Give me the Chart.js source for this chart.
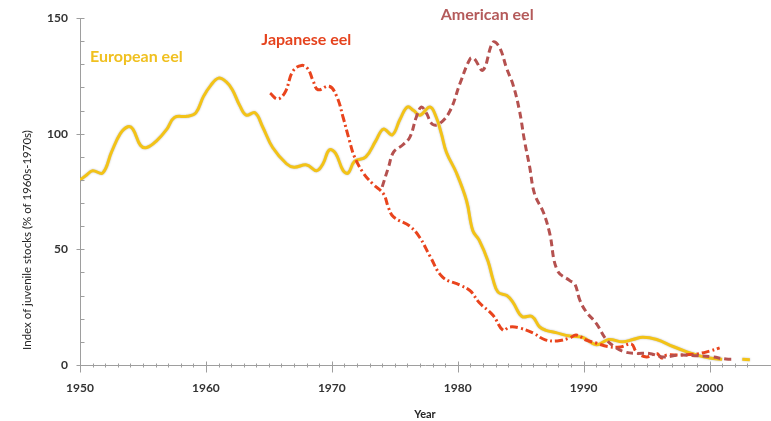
<!DOCTYPE html>
<html>
<head>
<meta charset="utf-8">
<script src="https://cdn.jsdelivr.net/npm/chart.js@4.4.1/dist/chart.umd.min.js"></script>
<style>
  html, body { margin: 0; padding: 0; background: #fff; }
  #wrap { width: 771px; height: 421px; }
</style>
</head>
<body>
<div id="wrap"><canvas id="eelChart" width="771" height="421"></canvas></div>
<script>
// Juvenile eel stock indices
const euroYears = [1950, 1950.5, 1951, 1951.8, 1952.5, 1953.2, 1953.8, 1954.2, 1954.8, 1955.3,
  1956.1, 1956.9, 1957.5, 1958.5, 1959.2, 1959.8, 1960.4, 1961, 1961.6, 1962.1,
  1962.7, 1963.2, 1963.9, 1964.5, 1965.3, 1966.4, 1967, 1968, 1968.8, 1969.3,
  1969.8, 1970.3, 1970.9, 1971.3, 1971.8, 1972.7, 1973.5, 1974.1, 1974.8, 1975.4,
  1976, 1976.5, 1977, 1977.8, 1978.3, 1978.7, 1979.1, 1979.9, 1980.7, 1981.2,
  1981.7, 1982.4, 1982.8, 1983.2, 1983.9, 1984.4, 1985.1, 1985.9, 1986.5, 1987,
  1987.8, 1988.9, 1989.9, 1991, 1992, 1993.1, 1993.9, 1994.7, 1995.8, 1997.1,
  1998.2, 1999, 2000, 2001, 2002, 2002.6, 2003.2];
const euroValues = [80, 82, 84, 83, 92, 100, 103, 102, 95, 94,
  97, 102, 107, 107.5, 109, 116, 121, 124, 122.5, 119,
  112, 108, 109, 103, 94, 87, 85.5, 86.5, 84, 87,
  93, 91.5, 84, 83, 88, 90, 97, 102, 99.5, 106,
  111.5, 110, 108, 111.5, 107, 100, 92, 83, 71, 58,
  54, 45, 37, 31.5, 30, 27, 21, 21, 16.5, 15,
  14, 12.5, 12, 8.8, 11, 10, 11, 12, 11, 8,
  5.7, 4.3, 3, 2.5, null, 2.5, 2.3];

const japanYears = [1965.1, 1965.7, 1966.3, 1966.9, 1967.6, 1968.1, 1968.5, 1968.9, 1969.8, 1970.4,
  1970.9, 1971.4, 1971.8, 1972.5, 1973.3, 1974.1, 1974.5, 1974.9, 1976.2, 1977,
  1977.8, 1978.8, 1980.2, 1981, 1981.7, 1982.8, 1983.6, 1984.1, 1984.9, 1986,
  1986.9, 1987.9, 1988.9, 1989.4, 1990.2, 1991, 1991.9, 1992.9, 1993.8, 1994.2,
  1995, 1995.8, 1996.2, 1996.6, 1997.6, 1999, 2000, 2000.8];
const japanValues = [117.5, 115, 118, 127, 129.5, 128, 123, 119, 120.5, 116,
  107, 97, 90, 83, 78, 74, 68, 64, 60, 55,
  47, 38, 34.5, 32, 27, 21.5, 15, 16.4, 16, 13.8,
  11, 10.4, 11.7, 13, 10.8, 9.5, 8, 7.8, 9, 5.6,
  3.5, 5, 3, 4.3, 4.3, 4.8, 6, 7.4];

const americaYears = [1974, 1974.5, 1974.9, 1975.6, 1976.2, 1976.7, 1977.1, 1977.5, 1978, 1978.6,
  1979.4, 1980.2, 1981, 1981.3, 1982, 1982.8, 1983.3, 1983.9, 1984.4, 1984.9,
  1985.3, 1985.7, 1986.1, 1986.8, 1987.3, 1987.9, 1988.9, 1989.3, 1989.7, 1990.2,
  1991, 1991.8, 1992.6, 1993.3, 1994.2, 1995.2, 1996.3, 1997.6, 1999, 2000.2,
  2001.3, 2002];
const americaValues = [77, 85.5, 92, 95, 98.5, 107, 111.5, 109, 104, 104.5,
  110, 122, 132.5, 132.5, 127.5, 139.5, 137.5, 128, 121, 110,
  97, 86, 74, 66, 57, 41, 36.5, 35, 28, 23,
  18, 11, 7.4, 5.6, 5, 5, 3.5, 4.3, 4, 3.5,
  2.6, 2.5];

const seriesNames = ['European eel', 'Japanese eel', 'American eel'];
const yTitle = 'Index of juvenile stocks (% of 1960s-1970s)';
const xTitle = 'Year';

const toPoints = (xs, ys) => xs.map((x, i) => ({ x: x, y: ys[i] }));

const axisGrey = '#9E9E9E';
const tickFont = { family: 'Lato', size: 12, weight: 'bold' };

// small crossing tick marks like the original axes
const axisTicks = {
    id: 'axisTicks',
    afterDraw(chart) {
        const { ctx, scales: { x, y } } = chart;
        const y0 = Math.round(y.getPixelForValue(0)) + 0.5;
        const x0 = Math.round(x.getPixelForValue(x.min)) + 0.5;
        ctx.save();
        ctx.strokeStyle = axisGrey;
        ctx.lineWidth = 1;
        ctx.beginPath();
        x.ticks.forEach(t => {
            if (!Number.isInteger(t.value)) return;
            const px = Math.round(x.getPixelForValue(t.value)) + 0.5;
            const major = t.value % 10 === 0;
            ctx.moveTo(px, y0 - (major ? 4 : 2));
            ctx.lineTo(px, y0 + (major ? 7 : 2));
        });
        y.ticks.forEach(t => {
            const py = Math.round(y.getPixelForValue(t.value)) + 0.5;
            const major = t.value % 50 === 0;
            ctx.moveTo(x0 - (major ? 4 : 0), py);
            ctx.lineTo(x0 + 4, py);
        });
        ctx.moveTo(x0, y0);
        ctx.lineTo(x0, y0 + 5);
        ctx.stroke();
        ctx.restore();
    }
};

// series names written inside the plot + rotated y title
const seriesLabels = {
    id: 'seriesLabels',
    afterDraw(chart, args, opts) {
        const { ctx, scales: { x, y } } = chart;
        ctx.save();
        ctx.font = opts.font;
        ctx.textBaseline = 'middle';
        ctx.textAlign = 'left';
        opts.items.forEach(it => {
            ctx.fillStyle = it.color;
            ctx.fillText(it.text, x.getPixelForValue(it.x), y.getPixelForValue(it.y));
        });
        ctx.font = opts.titleFont;
        ctx.fillStyle = '#262626';
        ctx.textAlign = 'center';
        ctx.translate(opts.titleX, opts.titleY);
        ctx.rotate(-Math.PI / 2);
        ctx.fillText(yTitle, 0, 0);
        ctx.restore();
    }
};

// soft grey edge on the European curve
const lineShadow = {
    id: 'lineShadow',
    beforeDatasetDraw(chart, args) {
        const ds = chart.data.datasets[args.index];
        chart.ctx.save();
        if (ds.label === seriesNames[0]) {
            chart.ctx.shadowColor = 'rgba(0,0,0,0.28)';
            chart.ctx.shadowBlur = 2;
        }
    },
    afterDatasetDraw(chart) {
        chart.ctx.restore();
    }
};

const eelChart = new Chart(document.getElementById('eelChart').getContext('2d'), {
    type: 'line',
    data: {
        datasets: [
            {
                label: seriesNames[2],
                data: toPoints(americaYears, americaValues),
                borderColor: '#B5514F',
                borderWidth: 3,
                borderDash: [7, 4],
                tension: 0.4,
                pointRadius: 0,
                fill: false
            },
            {
                label: seriesNames[1],
                data: toPoints(japanYears, japanValues),
                borderColor: '#E9441D',
                borderWidth: 3,
                borderDash: [8, 3, 2, 3],
                tension: 0.4,
                pointRadius: 0,
                fill: false
            },
            {
                label: seriesNames[0],
                data: toPoints(euroYears, euroValues),
                borderColor: '#F3C317',
                borderWidth: 3,
                tension: 0.4,
                pointRadius: 0,
                fill: false
            }
        ]
    },
    options: {
        responsive: false,
        animation: false,
        devicePixelRatio: 1,
        layout: { padding: { top: 18, right: 1, left: 0, bottom: 0 } },
        plugins: {
            legend: { display: false },
            tooltip: { enabled: false },
            seriesLabels: {
                font: 'bold 16px Lato',
                titleFont: '11.5px Lato',
                titleX: 27.5,
                titleY: 240,
                items: [
                    { text: seriesNames[0], x: 1950.8, y: 133, color: '#F0C020' },
                    { text: seriesNames[1], x: 1964.4, y: 140.5, color: '#E5431E' },
                    { text: seriesNames[2], x: 1978.65, y: 151.3, color: '#B45A5A' }
                ]
            }
        },
        scales: {
            x: {
                type: 'linear',
                min: 1950,
                max: 2004.8,
                afterFit: s => { s.height = 56; s.paddingLeft = 0; s.paddingRight = 0; },
                grid: { drawOnChartArea: false, drawTicks: false },
                border: { color: axisGrey, width: 1 },
                ticks: {
                    stepSize: 1,
                    autoSkip: false,
                    maxRotation: 0,
                    padding: 16,
                    color: '#333333',
                    font: tickFont,
                    callback: v => (Number.isInteger(v) && v % 10 === 0) ? String(v) : ''
                },
                title: {
                    display: true,
                    text: xTitle,
                    color: '#262626',
                    font: { family: 'Lato', size: 11, weight: 'bold' },
                    padding: { top: 0, bottom: 0 }
                }
            },
            y: {
                min: 0,
                max: 150,
                afterFit: s => { s.width = 80; s.paddingTop = 0; s.paddingBottom = 0; },
                grid: { drawOnChartArea: false, drawTicks: false },
                border: { color: axisGrey, width: 1 },
                ticks: {
                    stepSize: 10,
                    padding: 12,
                    color: '#333333',
                    font: tickFont,
                    callback: v => (v % 50 === 0) ? String(v) : ''
                }
            }
        }
    },
    plugins: [axisTicks, seriesLabels, lineShadow]
});
</script>
</body>
</html>
